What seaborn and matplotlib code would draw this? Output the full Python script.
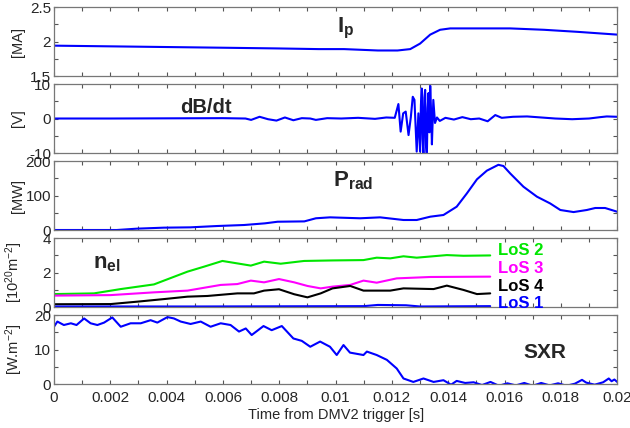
import seaborn as sns
import matplotlib.pyplot as plt
from matplotlib.ticker import MultipleLocator, FormatStrFormatter

# plasma current
ip_t = [0, 0.002, 0.004, 0.006, 0.0079, 0.0094, 0.0103, 0.0115, 0.0122, 0.01265,
        0.013, 0.01336, 0.01371, 0.01407, 0.0152, 0.0162, 0.0174, 0.0186, 0.02]
ip = [1.94, 1.93, 1.92, 1.91, 1.90, 1.89, 1.89, 1.87, 1.87, 1.89,
      1.97, 2.10, 2.17, 2.19, 2.19, 2.19, 2.17, 2.14, 2.10]

# magnetic probe
dbdt_t = [0, 0.002, 0.004, 0.006, 0.0068, 0.0070, 0.0073, 0.0076, 0.0079, 0.0082,
          0.0085, 0.0088, 0.0091, 0.0093, 0.0097, 0.0102, 0.0108, 0.0114, 0.0118, 0.0121,
          0.01223, 0.01231, 0.0124, 0.01249, 0.01259, 0.01267, 0.01274, 0.0128, 0.01288, 0.01294,
          0.013, 0.01303, 0.01306, 0.01309, 0.01312, 0.01315, 0.01318, 0.01321, 0.01324, 0.01327,
          0.0133, 0.01333, 0.01336, 0.01339, 0.01342, 0.01347, 0.01353,
          0.0136, 0.0137, 0.0139, 0.0142, 0.0145, 0.0148, 0.0151, 0.0154, 0.01567, 0.0159,
          0.0163, 0.0168, 0.0173, 0.0178, 0.0184, 0.019, 0.0194, 0.01963, 0.02]
dbdt = [0, 0, 0.05, 0.1, 0, -0.4, 0.5, -0.2, -0.6, 0.3,
        -0.5, 0.1, 0.0, -0.4, 0.1, 0.0, 0.2, -0.1, 0.3, 0.2,
        4.2, -3.8, 1.5, 2.0, -4.8, 0.3, 6.3, 5.4, -9.6, 1.5,
        -9.6, 4.0, 8.7, -6.0, -11, 6.0, 8.3, -8.0, -11, 3.0,
        7.4, -4.0, 9.5, 2.0, -7.5, 5.4, -1.3,
        0.3, -0.7, 0.2, -0.3, 0.4, -0.2, 0.0, -0.8, 1.0, 0.2,
        0.5, 0.6, 0.3, 0.0, -0.2, 0.0, 0.4, 0.6, 0.5]

# radiated power
prad_t = [0, 0.00223, 0.00295, 0.0039, 0.00484, 0.0058, 0.00675, 0.00749, 0.00794, 0.00889,
          0.0093, 0.0098, 0.01087, 0.01158, 0.01241, 0.01288, 0.01336, 0.01383, 0.0143, 0.01466,
          0.01502, 0.01537, 0.01578, 0.01596, 0.0162, 0.01667, 0.01715, 0.01762, 0.01798, 0.01845,
          0.01892, 0.01922, 0.01957, 0.02]
prad = [0, 0, 3.9, 6.8, 7.7, 11.6, 14.5, 19.3, 24, 25,
        34, 36.7, 34, 36.7, 29, 29, 38.6, 43.5, 67.6, 106,
        147, 172, 189, 185.5, 164, 125.5, 96.6, 77, 58, 52,
        58, 63.8, 63.8, 53]

# line-integrated densities
los2_t = [0, 0.00142, 0.00237, 0.00355, 0.00474, 0.00533, 0.00598, 0.00699, 0.00746, 0.00805,
          0.00888, 0.00989, 0.01099, 0.01146, 0.01194, 0.01241, 0.01288, 0.01395, 0.01454, 0.01549]
los2 = [0.75, 0.79, 1.04, 1.31, 2.05, 2.34, 2.67, 2.40, 2.63, 2.51,
        2.67, 2.70, 2.72, 2.86, 2.82, 2.94, 2.86, 3.01, 2.97, 2.99]
los3_t = [0, 0.00201, 0.00355, 0.00474, 0.00592, 0.00651, 0.00699, 0.00746, 0.00799, 0.00853,
          0.009, 0.00947, 0.00989, 0.01052, 0.01099, 0.01146, 0.01217, 0.01336, 0.01549]
los3 = [0.66, 0.69, 0.85, 0.95, 1.28, 1.33, 1.53, 1.43, 1.62, 1.43,
        1.22, 1.08, 1.18, 1.28, 1.53, 1.41, 1.66, 1.74, 1.76]
los4_t = [0, 0.00201, 0.00296, 0.00391, 0.00474, 0.00545, 0.00651, 0.0071, 0.00746, 0.00799,
          0.00853, 0.009, 0.00947, 0.00989, 0.01052, 0.01099, 0.01194, 0.01241, 0.01348, 0.01395,
          0.01454, 0.01502, 0.01549]
los4 = [0.16, 0.17, 0.31, 0.46, 0.60, 0.64, 0.79, 0.79, 0.95, 1.03,
        0.74, 0.56, 0.79, 1.08, 1.22, 0.95, 0.95, 1.08, 1.04, 1.24,
        0.99, 0.75, 0.79]
los1_t = [0, 0.005, 0.011, 0.0115, 0.0125, 0.013, 0.01549]
los1 = [0.03, 0.03, 0.05, 0.12, 0.10, 0.03, 0.05]

# soft x-ray
sxr_t = [0, 0.00012, 0.00035, 0.0006, 0.0008, 0.00107, 0.0013, 0.00154, 0.00178, 0.00207,
         0.00237, 0.00272, 0.00308, 0.00343, 0.00367, 0.00403, 0.00426, 0.0045, 0.00485, 0.00521,
         0.00556, 0.00592, 0.00627, 0.00657, 0.00681, 0.00702, 0.00744, 0.00773, 0.00809, 0.0085,
         0.0088, 0.0091, 0.00945, 0.0098, 0.01004, 0.01028, 0.01051, 0.01099, 0.01111, 0.01146,
         0.01182, 0.01217, 0.01241, 0.01276, 0.01312, 0.01348, 0.01383, 0.0141, 0.0143, 0.0146,
         0.0149, 0.0152, 0.0155, 0.0158, 0.0161, 0.0164, 0.0167, 0.0170, 0.0173, 0.0176,
         0.0179, 0.0182, 0.0185, 0.01875, 0.0189, 0.0192, 0.0195, 0.0197, 0.0198, 0.0199, 0.02]
sxr = [16.6, 18.1, 17.1, 17.6, 17.1, 19.0, 17.6, 17.1, 17.8, 19.3,
       16.6, 17.6, 17.6, 18.5, 17.8, 19.4, 19.0, 18.1, 17.4, 18.1,
       16.6, 17.6, 17.1, 15.2, 16.1, 14.2, 16.8, 15.6, 16.8, 13.2,
       12.5, 10.8, 12.3, 10.8, 8.4, 11.3, 9.1, 8.4, 9.4, 8.4,
       7.0, 4.5, 1.6, 0.6, 1.6, 0.6, 1.1, -0.2, 0.9, 0.3,
       0.5, -0.3, 0.6, -0.5, 0.2, -0.4, 0.3, -0.5, 0.3, -0.4,
       0.2, -0.5, 0.1, 1.2, 0.4, -0.2, 0.5, 1.6, 0.8, 1.3, 0.6]

xticks = [0, 0.002, 0.004, 0.006, 0.008, 0.01, 0.012, 0.014, 0.016, 0.018, 0.02]
xtick_labels = ["0", "0.002", "0.004", "0.006", "0.008", "0.01", "0.012",
                "0.014", "0.016", "0.018", "0.02"]

sns.set_theme(style="ticks")
plt.rcParams["font.family"] = ["Liberation Sans", "DejaVu Sans"]
plt.rcParams["mathtext.fontset"] = "custom"
plt.rcParams["mathtext.rm"] = "Liberation Sans"
plt.rcParams["mathtext.it"] = "Liberation Sans:italic"
plt.rcParams["mathtext.bf"] = "Liberation Sans:bold"
plt.rcParams["axes.unicode_minus"] = False

fig = plt.figure(figsize=(6.3, 4.28), dpi=100)
left, width, height = 0.0857, 0.894, 0.1612
bottoms = [0.8224, 0.6425, 0.4626, 0.2827, 0.1028]
axes = [fig.add_axes([left, b, width, height]) for b in bottoms]

blue = "#0000ff"
lw = 1.5

sns.lineplot(x=ip_t, y=ip, ax=axes[0], color=blue, lw=lw, estimator=None, sort=False)
sns.lineplot(x=dbdt_t, y=dbdt, ax=axes[1], color=blue, lw=lw, estimator=None, sort=False)
sns.lineplot(x=prad_t, y=prad, ax=axes[2], color=blue, lw=lw, estimator=None, sort=False)
sns.lineplot(x=los2_t, y=los2, ax=axes[3], color="#00e600", lw=lw, estimator=None, sort=False)
sns.lineplot(x=los3_t, y=los3, ax=axes[3], color="#ff00ff", lw=lw, estimator=None, sort=False)
sns.lineplot(x=los4_t, y=los4, ax=axes[3], color="black", lw=lw, estimator=None, sort=False)
sns.lineplot(x=los1_t, y=los1, ax=axes[3], color=blue, lw=lw, estimator=None, sort=False)
sns.lineplot(x=sxr_t, y=sxr, ax=axes[4], color=blue, lw=lw, estimator=None, sort=False)

ylims = [(1.5, 2.5), (-10, 10), (0, 200), (0, 4), (0, 20)]
ysteps = [0.5, 10, 100, 2, 10]
ylabels = ["[MA]", "[V]", "[MW]", r"[10$^{20}$m$^{-2}$]", r"[W.m$^{-2}$]"]

for ax, lim, step, lab in zip(axes, ylims, ysteps, ylabels):
    ax.set_xlim(0, 0.02)
    ax.set_ylim(*lim)
    ax.set_xticks(xticks)
    ax.xaxis.set_minor_locator(MultipleLocator(0.001))
    ax.yaxis.set_major_locator(MultipleLocator(step))
    ax.yaxis.set_minor_locator(MultipleLocator(step / 2))
    ax.yaxis.set_major_formatter(FormatStrFormatter("%g"))
    ax.tick_params(which="both", direction="in", top=True, right=True,
                   length=3, width=0.8, color="#555555", labelsize=11, pad=2)
    ax.set_ylabel(lab, fontsize=10.5)
    ax.yaxis.set_label_coords(-0.052, 0.5)
    ax.set_xlabel("")
    for s in ax.spines.values():
        s.set_color("#777777")
        s.set_linewidth(0.9)
    if ax is not axes[-1]:
        ax.tick_params(labelbottom=False)

axes[-1].set_xticks(xticks, xtick_labels)
axes[-1].tick_params(axis="x", pad=5)
axes[-1].set_xlabel("Time from DMV2 trigger [s]", fontsize=10.5, labelpad=2)

axes[0].text(0.01005, 2.13, r"$\mathbf{I_p}$", fontsize=16, ha="left", va="baseline")
axes[1].text(0.0054, 0.5, "dB/dt", fontsize=14.5, fontweight="bold", ha="center", va="bottom")
axes[2].text(0.0099, 125, r"$\mathbf{P_{rad}}$", fontsize=16, ha="left", va="baseline")
axes[3].text(0.0014, 2.26, r"$\mathbf{n_{el}}$", fontsize=16, ha="left", va="baseline")
axes[4].text(0.01666, 7.5, "SXR", fontsize=15, fontweight="bold", ha="left", va="baseline")

los_names = ["LoS 2", "LoS 3", "LoS 4", "LoS 1"]
los_y = [3.3, 2.26, 1.16, 0.23]
los_colors = ["#00e600", "#ff00ff", "black", blue]
for name, yv, c in zip(los_names, los_y, los_colors):
    axes[3].text(0.01577, yv, name, fontsize=12, fontweight="bold", color=c,
                 ha="left", va="center")

plt.savefig("out.png", dpi=100)
